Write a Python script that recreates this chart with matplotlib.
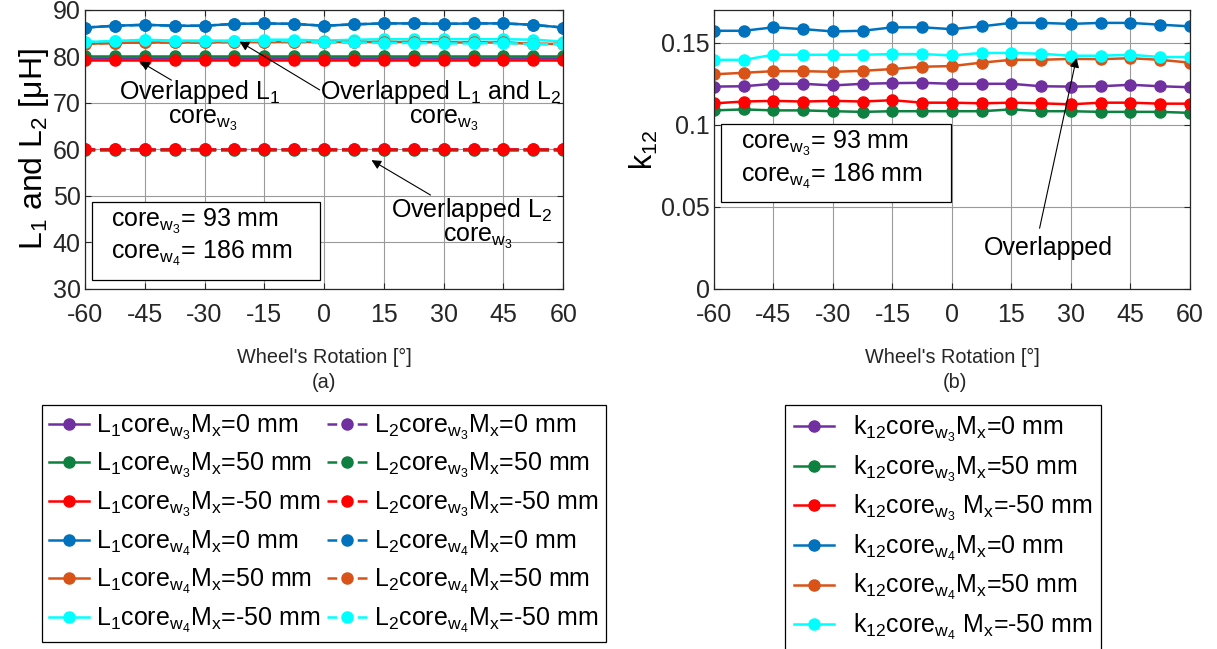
import numpy as np
import matplotlib
matplotlib.use('Agg')
import matplotlib.pyplot as plt
from matplotlib.patches import Rectangle

plt.rcParams['font.family'] = ['Liberation Sans', 'DejaVu Sans']
plt.rcParams['mathtext.fontset'] = 'custom'
plt.rcParams['mathtext.rm'] = 'Liberation Sans'
plt.rcParams['mathtext.it'] = 'Liberation Sans:italic'
plt.rcParams['mathtext.bf'] = 'Liberation Sans:bold'
plt.rcParams['axes.unicode_minus'] = False

# wheel rotation [deg]
angle = [-60, -52.5, -45, -37.5, -30, -22.5, -15, -7.5, 0,
         7.5, 15, 22.5, 30, 37.5, 45, 52.5, 60]

# L1 [uH]
L1_w3_0 = [79.6, 79.6, 79.6, 79.6, 79.6, 79.6, 79.6, 79.6, 79.6,
           79.6, 79.6, 79.6, 79.6, 79.6, 79.6, 79.6, 79.6]
L1_w3_50 = [80.0, 80.0, 80.0, 80.0, 80.0, 80.0, 80.0, 80.0, 80.0,
            80.0, 80.0, 80.0, 80.0, 80.0, 80.0, 80.0, 80.0]
L1_w3_m50 = [79.2, 79.2, 79.2, 79.2, 79.2, 79.2, 79.2, 79.2, 79.2,
             79.2, 79.2, 79.2, 79.2, 79.2, 79.2, 79.2, 79.2]
L1_w4_0 = [86.2, 86.6, 86.8, 86.6, 86.6, 87.0, 87.1, 87.0, 86.6,
           86.9, 87.1, 87.1, 87.0, 87.1, 87.1, 86.8, 86.2]
L1_w4_50 = [82.7, 82.9, 83.0, 83.0, 83.0, 83.1, 83.1, 83.1, 83.1,
            83.1, 83.1, 83.1, 83.0, 83.0, 83.0, 82.7, 82.7]
L1_w4_m50 = [83.1, 83.3, 83.6, 83.4, 83.4, 83.4, 83.6, 83.6, 83.4,
             83.6, 83.7, 83.7, 83.7, 83.7, 83.7, 83.6, 83.2]

# L2 [uH]
L2_w3_0 = [60.1, 60.1, 60.1, 60.1, 60.1, 60.1, 60.1, 60.1, 60.1,
           60.1, 60.1, 60.1, 60.1, 60.1, 60.1, 60.1, 60.1]
L2_w3_50 = [59.8, 59.8, 59.8, 59.8, 59.8, 59.8, 59.8, 59.8, 59.8,
            59.8, 59.8, 59.8, 59.8, 59.8, 59.8, 59.8, 59.8]
L2_w3_m50 = [60.0, 60.0, 60.0, 60.0, 60.0, 60.0, 60.0, 60.0, 60.0,
             60.0, 60.0, 60.0, 60.0, 60.0, 60.0, 60.0, 60.0]
L2_w4_0 = [86.2, 86.6, 86.8, 86.6, 86.6, 87.0, 87.1, 87.0, 86.6,
           86.9, 87.1, 87.1, 87.0, 87.1, 87.1, 86.8, 86.2]
L2_w4_50 = [82.7, 82.9, 83.0, 83.0, 83.0, 83.1, 83.1, 83.1, 83.1,
            83.1, 83.1, 83.1, 83.0, 83.0, 83.0, 82.7, 82.7]
L2_w4_m50 = [83.1, 83.3, 83.5, 83.3, 83.3, 83.3, 83.4, 83.3, 83.1,
             83.0, 82.9, 82.9, 82.8, 82.8, 82.9, 82.6, 82.7]

# coupling k12
k_w3_0 = [0.1233, 0.1235, 0.1250, 0.1250, 0.1240, 0.1250, 0.1254, 0.1256, 0.1250,
          0.1250, 0.1250, 0.1235, 0.1233, 0.1235, 0.1244, 0.1235, 0.1229]
k_w3_50 = [0.1088, 0.1094, 0.1088, 0.1088, 0.1083, 0.1079, 0.1083, 0.1083, 0.1083,
           0.1083, 0.1094, 0.1083, 0.1083, 0.1079, 0.1079, 0.1079, 0.1073]
k_w3_m50 = [0.1131, 0.1142, 0.1146, 0.1142, 0.1146, 0.1142, 0.1150, 0.1135, 0.1135,
            0.1131, 0.1135, 0.1131, 0.1125, 0.1135, 0.1135, 0.1129, 0.1129]
k_w4_0 = [0.1573, 0.1573, 0.1594, 0.1583, 0.1569, 0.1573, 0.1594, 0.1594, 0.1583,
          0.1600, 0.1621, 0.1621, 0.1615, 0.1621, 0.1621, 0.1610, 0.1600]
k_w4_50 = [0.1308, 0.1317, 0.1327, 0.1327, 0.1323, 0.1329, 0.1340, 0.1354, 0.1358,
           0.1379, 0.1396, 0.1396, 0.1402, 0.1400, 0.1406, 0.1396, 0.1379]
k_w4_m50 = [0.1396, 0.1396, 0.1427, 0.1427, 0.1427, 0.1427, 0.1431, 0.1431, 0.1423,
            0.1438, 0.1438, 0.1433, 0.1421, 0.1421, 0.1427, 0.1413, 0.1413]

colors = ['#7030A0', '#0E8040', '#FF0000', '#0072BD', '#D95319', '#00FFFF']
cases = [r'core$_{\mathrm{w}_3}$M$_\mathrm{x}$=0 mm',
         r'core$_{\mathrm{w}_3}$M$_\mathrm{x}$=50 mm',
         r'core$_{\mathrm{w}_3}$M$_\mathrm{x}$=-50 mm',
         r'core$_{\mathrm{w}_4}$M$_\mathrm{x}$=0 mm',
         r'core$_{\mathrm{w}_4}$M$_\mathrm{x}$=50 mm',
         r'core$_{\mathrm{w}_4}$M$_\mathrm{x}$=-50 mm']
k_cases = [r'core$_{\mathrm{w}_3}$M$_\mathrm{x}$=0 mm',
           r'core$_{\mathrm{w}_3}$M$_\mathrm{x}$=50 mm',
           r'core$_{\mathrm{w}_3}$ M$_\mathrm{x}$=-50 mm',
           r'core$_{\mathrm{w}_4}$M$_\mathrm{x}$=0 mm',
           r'core$_{\mathrm{w}_4}$M$_\mathrm{x}$=50 mm',
           r'core$_{\mathrm{w}_4}$ M$_\mathrm{x}$=-50 mm']

L1_all = [L1_w3_0, L1_w3_50, L1_w3_m50, L1_w4_0, L1_w4_50, L1_w4_m50]
L2_all = [L2_w3_0, L2_w3_50, L2_w3_m50, L2_w4_0, L2_w4_50, L2_w4_m50]
k_all = [k_w3_0, k_w3_50, k_w3_m50, k_w4_0, k_w4_50, k_w4_m50]

fig = plt.figure(figsize=(12.17, 6.49), dpi=100)
ax1 = fig.add_axes([0.0698, 0.5547, 0.393, 0.430])
ax2 = fig.add_axes([0.5867, 0.5547, 0.391, 0.430])

tc = '#262626'
lw = 1.8
ms = 8

h1 = []
h2 = []
for i in range(6):
    l, = ax1.plot(angle, L1_all[i], '-', marker='o', color=colors[i], lw=lw, ms=ms,
                  label=r'L$_1$' + cases[i])
    h1.append(l)
for i in range(6):
    # dash pattern chosen so the legend handle reads "- o -"
    l, = ax1.plot(angle, L2_all[i], '--', marker='o', color=colors[i], lw=lw, ms=ms,
                  dashes=(3.9, 1.9, 4.4, 1.9), label=r'L$_2$' + cases[i])
    h2.append(l)

hk = []
for i in range(6):
    l, = ax2.plot(angle, k_all[i], '-', marker='o', color=colors[i], lw=lw, ms=ms,
                  label=r'k$_{12}$' + k_cases[i])
    hk.append(l)

for ax in (ax1, ax2):
    ax.set_xlim(-60, 60)
    ax.set_xticks([-60, -45, -30, -15, 0, 15, 30, 45, 60])
    ax.grid(True, color='#9a9a9a', lw=0.8)
    ax.set_axisbelow(True)
    ax.tick_params(direction='in', labelsize=18, colors=tc, top=True, right=True,
                   length=4)
    ax.tick_params(axis='x', pad=10)
    ax.tick_params(axis='y', pad=3)
    for s in ax.spines.values():
        s.set_color('#262626')
        s.set_linewidth(0.9)
    ax.set_xlabel("Wheel's Rotation [°]", fontsize=14.3, color=tc, labelpad=15)

ax1.set_ylim(30, 90)
ax1.set_yticks([30, 40, 50, 60, 70, 80, 90])
ax1.set_ylabel(r'L$_1$ and L$_2$ [μH]', fontsize=23, labelpad=1)
ax2.set_ylim(0, 0.17)
ax2.set_yticks([0, 0.05, 0.1, 0.15])
ax2.set_yticklabels(['0', '0.05', '0.1', '0.15'])
ax2.set_ylabel(r'k$_{12}$', fontsize=22, labelpad=1)

afs = 18
arr = dict(arrowstyle='-|>', color='black', lw=0.8, mutation_scale=14,
           shrinkA=0, shrinkB=0)
ax1.annotate('', xy=(-46.2, 78.9), xytext=(-38.3, 74.9), arrowprops=arr)
ax1.text(-31.2, 70.9, 'Overlapped L$_1$', ha='center', va='baseline', fontsize=afs)
ax1.text(-30.4, 65.6, r'core$_{\mathrm{w}_3}$', ha='center', va='baseline', fontsize=afs)
ax1.annotate('', xy=(-21.2, 83.2), xytext=(-1.1, 72.8), arrowprops=arr)
ax1.text(29.2, 70.9, 'Overlapped L$_1$ and L$_2$', ha='center', va='baseline',
         fontsize=afs)
ax1.text(30.0, 65.6, r'core$_{\mathrm{w}_3}$', ha='center', va='baseline', fontsize=afs)
ax1.annotate('', xy=(11.9, 57.7), xytext=(26.7, 50.2), arrowprops=arr)
ax1.text(37.0, 45.4, 'Overlapped L$_2$', ha='center', va='baseline', fontsize=afs)
ax1.text(38.5, 40.1, r'core$_{\mathrm{w}_3}$', ha='center', va='baseline', fontsize=afs)

ax2.annotate('', xy=(31.4, 0.1407), xytext=(22.1, 0.037), arrowprops=arr)
ax2.text(24.4, 0.0249, 'Overlapped', ha='center', va='center', fontsize=afs)

# info boxes
ax1.add_patch(Rectangle((0.015, 0.032), 0.477, 0.280, transform=ax1.transAxes,
                        fc='white', ec='black', lw=0.9, zorder=5))
ax1.text(0.054, 0.222, r'core$_{\mathrm{w}_3}$= 93 mm', transform=ax1.transAxes,
         fontsize=afs, va='baseline', ha='left', zorder=6)
ax1.text(0.054, 0.108, r'core$_{\mathrm{w}_4}$= 186 mm', transform=ax1.transAxes,
         fontsize=afs, va='baseline', ha='left', zorder=6)
ax2.add_patch(Rectangle((0.015, 0.312), 0.483, 0.280, transform=ax2.transAxes,
                        fc='white', ec='black', lw=0.9, zorder=5))
ax2.text(0.057, 0.502, r'core$_{\mathrm{w}_3}$= 93 mm', transform=ax2.transAxes,
         fontsize=afs, va='baseline', ha='left', zorder=6)
ax2.text(0.057, 0.384, r'core$_{\mathrm{w}_4}$= 186 mm', transform=ax2.transAxes,
         fontsize=afs, va='baseline', ha='left', zorder=6)

fig.text(0.266, 0.411, '(a)', ha='center', va='center', fontsize=14.3, color=tc)
fig.text(0.785, 0.411, '(b)', ha='center', va='center', fontsize=14.3, color=tc)

lfs = 18
leg1 = fig.legend(h1 + h2, [h.get_label() for h in h1 + h2], ncol=2,
                  loc='upper center', bbox_to_anchor=(0.266, 0.376), fontsize=lfs,
                  frameon=True, fancybox=False, edgecolor='black', framealpha=1,
                  handlelength=1.6, handletextpad=0.25, columnspacing=0.3,
                  labelspacing=0.38, borderpad=0.3, borderaxespad=0)
leg1.get_frame().set_linewidth(0.9)
leg2 = fig.legend(hk, [h.get_label() for h in hk], ncol=1,
                  loc='upper center', bbox_to_anchor=(0.775, 0.376), fontsize=lfs,
                  frameon=True, fancybox=False, edgecolor='black', framealpha=1,
                  handlelength=1.6, handletextpad=0.75,
                  labelspacing=0.38, borderpad=0.35, borderaxespad=0)
leg2.get_frame().set_linewidth(0.9)

fig.savefig('out.png', dpi=100)
